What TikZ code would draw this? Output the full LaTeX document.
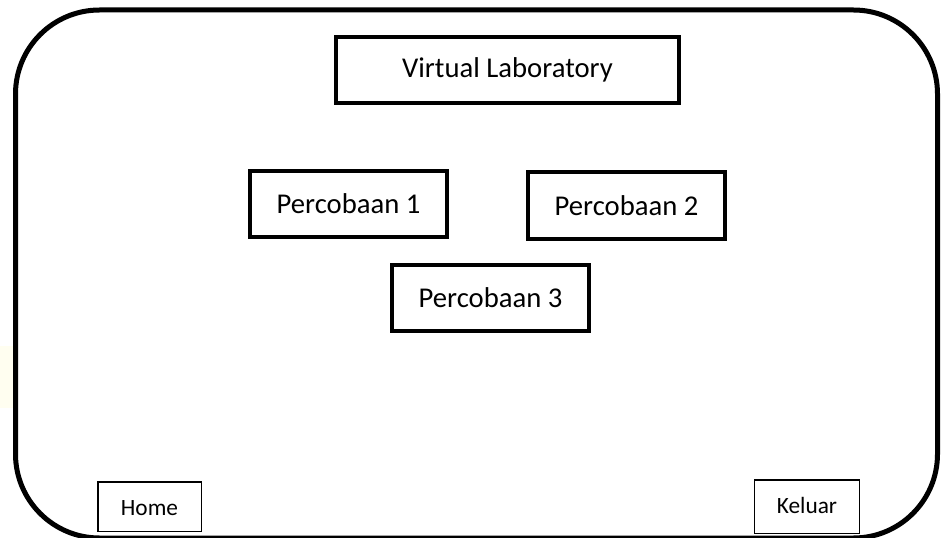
\documentclass[tikz,border=0pt]{standalone}
\usepackage{fontspec}
\setmainfont{Carlito}
\begin{document}
\begin{tikzpicture}[x=0.75pt,y=-0.75pt,
  bigbox/.style={draw=black,line width=3pt,fill=white,inner sep=0pt,
    minimum width=147.75pt,minimum height=49.5pt,font=\fontsize{21.5}{24}\selectfont},
  smallbox/.style={draw=black,line width=1.1pt,fill=white,inner sep=0pt,
    font=\fontsize{17.5}{20}\selectfont}]
\useasboundingbox (0,0) rectangle (941,538);
\fill[white] (0,0) rectangle (941,538);
\fill[yellow!6] (0,346) rectangle (14,408);
\draw[line width=3.75pt,rounded corners=63pt] (15.5,10) rectangle (937.5,538);
\node[bigbox,minimum width=257.25pt] (title) at (507.5,70) {Virtual Laboratory};
\node[bigbox] (p1) at (348.5,204) {Percobaan 1};
\node[bigbox] (p2) at (626.5,205.5) {Percobaan 2};
\node[bigbox] (p3) at (490.5,298) {Percobaan 3};
\node[smallbox,minimum width=77.6pt,minimum height=37.1pt] (home) at (149.5,506.5) {\raisebox{-6.9pt}[0pt][0pt]{Home}};
\node[smallbox,minimum width=78.4pt,minimum height=40.1pt] (keluar) at (807,506.5) {\raisebox{-5.6pt}[0pt][0pt]{Keluar}};
\end{tikzpicture}
\end{document}
